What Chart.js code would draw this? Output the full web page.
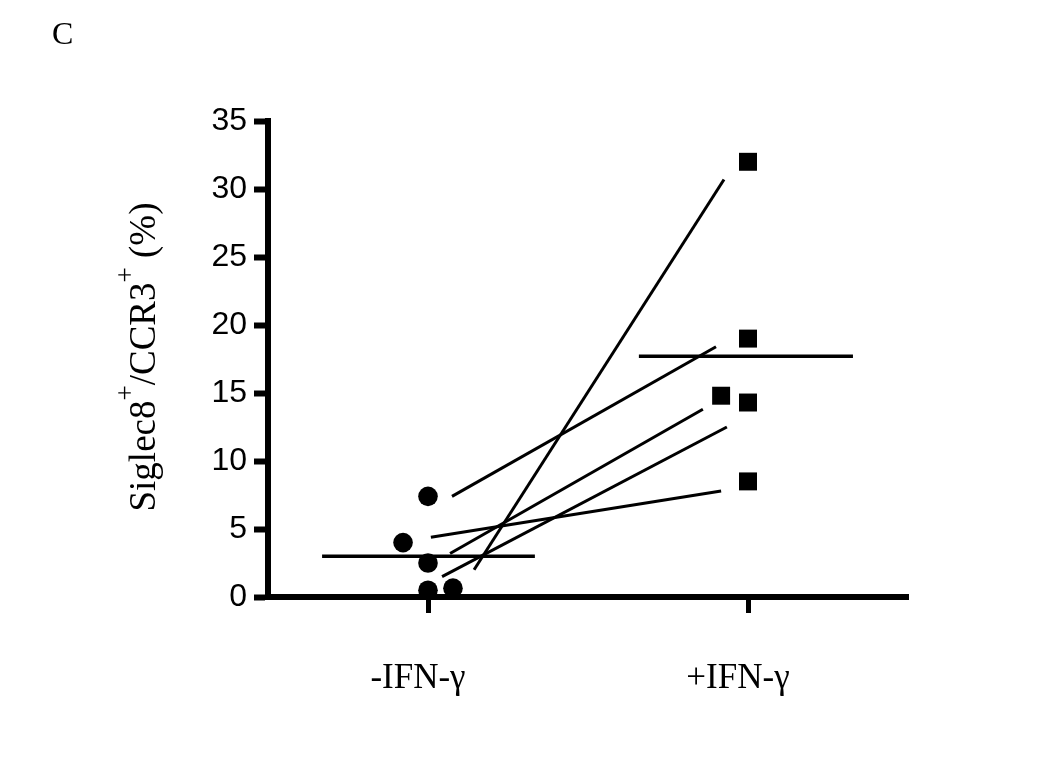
<!DOCTYPE html>
<html>
<head>
<meta charset="utf-8">
<title>Siglec8+/CCR3+</title>
<script src="https://cdn.jsdelivr.net/npm/chart.js@4"></script>
<style>
    body { margin: 0; background: #fff; }
    #wrap { width: 1050px; height: 780px; }
</style>
</head>
<body>
<div id="wrap"><canvas id="chart"></canvas></div>
<script>
const ctx = document.getElementById('chart')

const panelLabel = 'C'
const categories = ['-IFN-γ', '+IFN-γ']
const titleParts = [['Siglec8', false], ['+', true], ['/CCR3', false], ['+', true], [' (%)', false]]
const yMax = 35
const yStep = 5

// points, x = group position (1 / 2, with the jitter of the figure)
const minusX = [1.0, 0.922, 1.0, 1.0, 1.078]
const minusY = [7.4, 4.0, 2.5, 0.5, 0.65]
const plusX = [2.0, 2.0, 1.916, 2.0, 2.0]
const plusY = [32.0, 19.0, 14.8, 14.3, 8.5]

// paired lines as drawn
const pairStartX = [1.144, 1.075, 1.069, 1.044, 1.009]
const pairStartY = [2.0, 7.4, 3.2, 1.5, 4.4]
const pairEndX = [1.925, 1.9, 1.859, 1.934, 1.916]
const pairEndY = [30.7, 18.4, 13.8, 12.5, 7.8]

// group means
const meanY = [3.0, 17.7]
const meanFrom = [0.669, 1.659]
const meanTo = [1.334, 2.328]

const serif = '"Liberation Serif", "Times New Roman", serif'

const datasets = []

pairStartX.forEach((x, i) => {
    datasets.push({
        data: [{ x: x, y: pairStartY[i] }, { x: pairEndX[i], y: pairEndY[i] }],
        showLine: true,
        borderColor: '#000',
        borderWidth: 3,
        pointRadius: 0,
        clip: false
    })
})

meanY.forEach((y, i) => {
    datasets.push({
        data: [{ x: meanFrom[i], y: y }, { x: meanTo[i], y: y }],
        showLine: true,
        borderColor: '#000',
        borderWidth: 3.5,
        pointRadius: 0,
        clip: false
    })
})

datasets.push({
    data: minusX.map((x, i) => ({ x: x, y: minusY[i] })),
    pointStyle: 'circle',
    pointRadius: 9.8,
    backgroundColor: '#000',
    borderWidth: 0,
    clip: false
})

datasets.push({
    data: plusX.map((x, i) => ({ x: x, y: plusY[i] })),
    pointStyle: 'rect',
    pointRadius: 12.7,
    backgroundColor: '#000',
    borderWidth: 0,
    clip: false
})

const textPlugin = {
    id: 'texts',
    afterDraw: chart => {
        const c = chart.ctx
        c.save()
        c.fillStyle = '#000'
        c.textBaseline = 'alphabetic'
        c.textAlign = 'left'
        c.font = `32px ${serif}`
        c.fillText(panelLabel, 52, 44)

        let total = 0
        titleParts.forEach(([t, sup]) => {
            c.font = sup ? `27px ${serif}` : `37px ${serif}`
            total += c.measureText(t).width
        })
        c.translate(155, 357 + total / 2)
        c.rotate(-Math.PI / 2)
        let x = 0
        titleParts.forEach(([t, sup]) => {
            c.font = sup ? `27px ${serif}` : `37px ${serif}`
            c.fillText(t, x, sup ? -21 : 0)
            x += c.measureText(t).width
        })
        c.restore()
    }
}

new Chart(ctx, {
    type: 'scatter',
    data: { datasets: datasets },
    plugins: [textPlugin],
    options: {
        responsive: true,
        maintainAspectRatio: false,
        animation: false,
        layout: { padding: { left: 0, right: 142, top: 121, bottom: 0 } },
        plugins: {
            legend: { display: false },
            tooltip: { enabled: false }
        },
        scales: {
            x: {
                type: 'linear',
                min: 0.5,
                max: 2.5,
                afterBuildTicks: s => { s.ticks = categories.map((c, i) => ({ value: i + 1 })) },
                afterFit: s => { s.height = 183 },
                ticks: {
                    callback: (v, i) => categories[i],
                    font: { family: serif, size: 35 },
                    color: '#000',
                    padding: 45,
                    labelOffset: -10,
                    maxRotation: 0,
                    autoSkip: false
                },
                grid: { drawOnChartArea: false, tickLength: 16, tickWidth: 5, tickColor: '#000' },
                border: { display: true, color: '#000', width: 6 }
            },
            y: {
                min: 0,
                max: yMax,
                afterFit: s => { s.width = 268 },
                ticks: {
                    stepSize: yStep,
                    font: { family: '"Liberation Sans", Arial, sans-serif', size: 32 },
                    color: '#000',
                    padding: 7
                },
                grid: { drawOnChartArea: false, tickLength: 14, tickWidth: 6, tickColor: '#000' },
                border: { display: true, color: '#000', width: 6 }
            }
        }
    }
})
</script>
</body>
</html>
